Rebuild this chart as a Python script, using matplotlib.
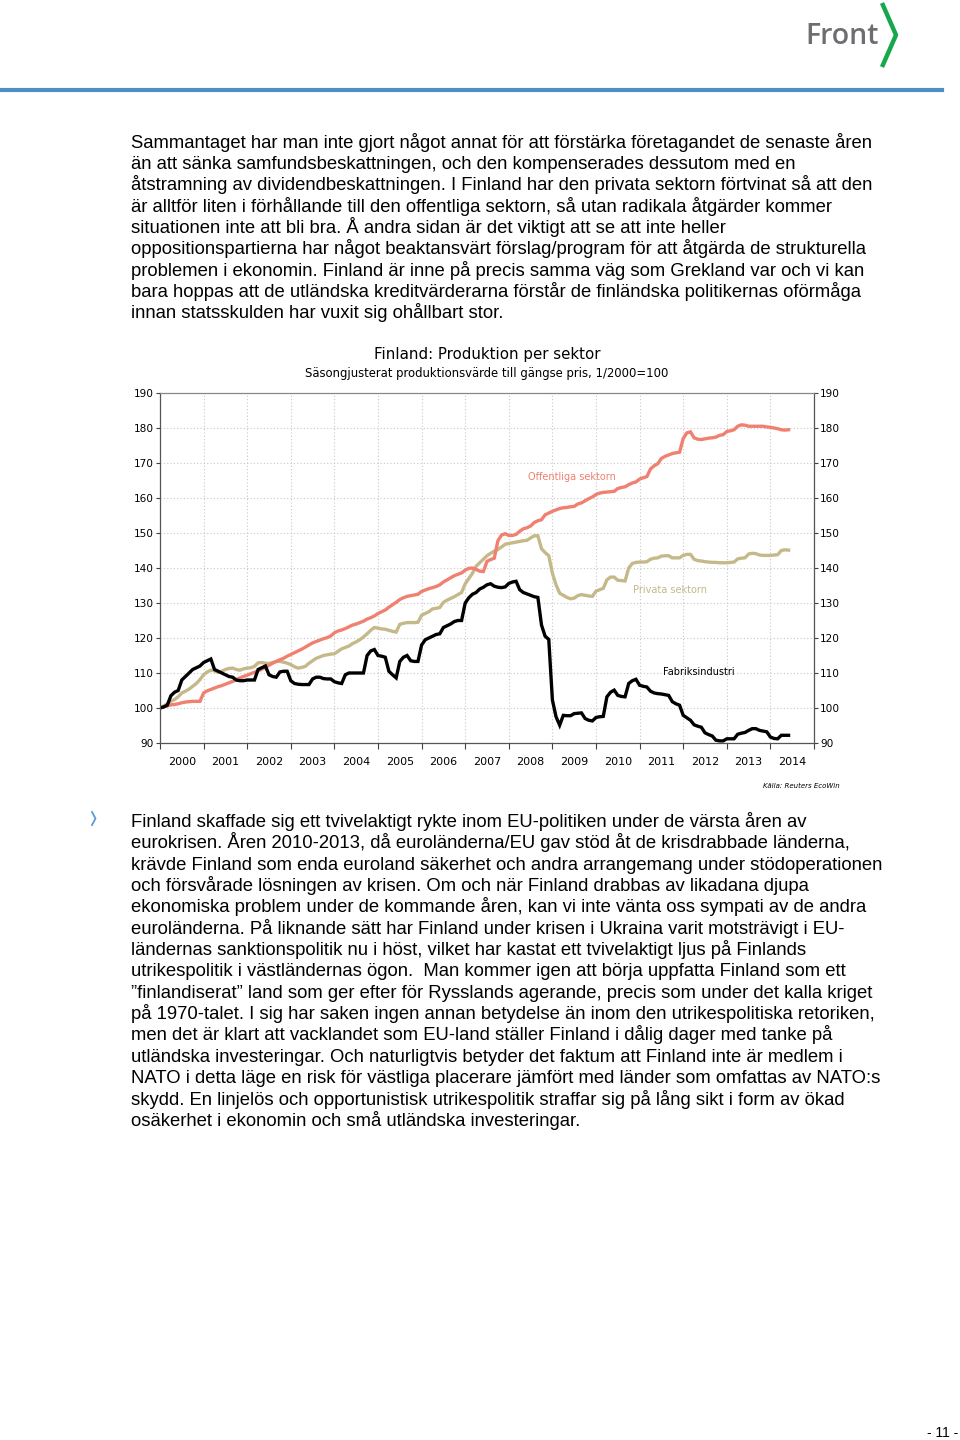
import numpy as np
import matplotlib
matplotlib.use("Agg")
import matplotlib.pyplot as plt
from matplotlib.lines import Line2D

# Monthly series, Jan 2000 .. Jun 2014 (1/2000 = 100)
start_year = 2000
offentliga = [
    100, 100.3, 100.6, 100.9, 101, 101.2, 101.5, 101.7, 101.8, 101.9, 101.9, 101.9,
    104.3, 104.9, 105.3, 105.7, 106.1, 106.4, 106.8, 107.2, 107.6, 108.1, 108.6, 109,
    109.4, 109.8, 110.2, 110.6, 111.1, 111.6, 112.2, 112.8, 113.3, 113.8, 114.2, 114.8,
    115.3, 115.8, 116.3, 116.8, 117.4, 118, 118.6, 119, 119.4, 119.8, 120.1, 120.6,
    121.5, 122, 122.3, 122.7, 123.2, 123.7, 124, 124.4, 124.8, 125.4, 125.8, 126.3,
    127, 127.5, 128, 128.8, 129.5, 130.2, 131, 131.5, 131.9, 132.1, 132.3, 132.5,
    133.3, 133.7, 134.1, 134.4, 134.7, 135.2, 136, 136.6, 137.2, 137.8, 138.2, 138.6,
    139.4, 139.9, 140, 139.6, 139.1, 139, 141.9, 142.4, 142.8, 147.8, 149.4, 149.8,
    149.3, 149.3, 149.6, 150.5, 151.2, 151.5, 152, 153, 153.5, 153.8, 155.2, 155.7,
    156.2, 156.6, 157, 157.2, 157.3, 157.5, 157.6, 158.3, 158.6, 159.2, 159.8, 160.3,
    161, 161.4, 161.6, 161.7, 161.8, 161.9, 162.7, 163, 163.2, 163.8, 164.3, 164.6,
    165.4, 165.8, 166.1, 168.3, 169.2, 169.8, 171.3, 171.9, 172.3, 172.7, 172.9, 173.1,
    177, 178.6, 178.9, 177.2, 176.8, 176.7, 176.9, 177.1, 177.2, 177.4, 177.9, 178.1,
    179, 179.2, 179.5, 180.5, 180.9, 180.8, 180.5, 180.5, 180.5, 180.5, 180.5, 180.3,
    180.2, 180, 179.8, 179.5, 179.4, 179.5,
]
privata = [
    100, 100.6, 101.2, 101.9, 102.4, 103.2, 104.3, 104.8, 105.4, 106.2, 107, 108.1,
    109.5, 110.3, 110.8, 110.6, 110.2, 110.5, 111, 111.3, 111.4, 111, 110.8, 111.2,
    111.4, 111.5, 111.9, 112.9, 113, 112.8, 112.7, 113, 113.3, 113.3, 113.1, 112.8,
    112.4, 111.8, 111.4, 111.6, 111.9, 112.8, 113.5, 114.2, 114.6, 115, 115.2, 115.4,
    115.5, 116.2, 116.9, 117.3, 117.7, 118.4, 118.9, 119.5, 120.3, 121.2, 122.2, 123,
    122.8, 122.6, 122.5, 122.2, 121.9, 121.7, 123.9, 124.2, 124.4, 124.4, 124.4, 124.5,
    126.5, 127, 127.5, 128.3, 128.5, 128.7, 130.2, 130.8, 131.3, 131.8, 132.4, 133,
    135.5, 137, 138.5, 140.5, 141.5, 142.5, 143.5, 144.2, 144.8, 145.3, 146, 146.8,
    147, 147.2, 147.4, 147.6, 147.8, 147.9, 148.6, 149.2, 149.2, 145.5, 144.4, 143.5,
    138.5, 135.2, 132.8, 132.2, 131.6, 131.2, 131.4, 132.1, 132.4, 132.2, 132, 131.9,
    133.4, 133.8, 134.2, 136.6, 137.4, 137.4, 136.5, 136.4, 136.3, 140, 141.3, 141.6,
    141.7, 141.7, 141.8, 142.5, 142.8, 142.9, 143.4, 143.5, 143.5, 142.9, 142.9, 142.9,
    143.6, 143.9, 143.9, 142.5, 142.1, 142, 141.8, 141.7, 141.6, 141.6, 141.5, 141.5,
    141.5, 141.6, 141.7, 142.6, 142.8, 142.9, 144, 144.2, 144.1, 143.7, 143.6, 143.6,
    143.6, 143.7, 143.8, 145, 145.2, 145.1,
]
fabriks = [
    100, 100.3, 100.8, 103.5, 104.5, 105, 108, 109, 110, 111, 111.5, 112,
    113, 113.5, 114, 111, 110.5, 110, 109.5, 109, 108.8, 108, 107.8, 107.8,
    108, 108, 108, 111, 111.5, 112, 109.5, 109, 108.8, 110.3, 110.5, 110.5,
    107.8, 107, 106.8, 106.7, 106.7, 106.7, 108.3, 108.8, 108.8, 108.4, 108.3, 108.3,
    107.5, 107.2, 107, 109.5, 110, 110, 110, 110, 110, 115, 116.3, 116.7,
    115, 114.8, 114.5, 110.5, 109.5, 108.6, 113.3, 114.5, 115, 113.5, 113.3, 113.3,
    118, 119.5, 120, 120.5, 121, 121.2, 123, 123.5, 124, 124.7, 125, 125,
    130, 131.5, 132.5, 133, 134, 134.5, 135.2, 135.5, 134.8, 134.5, 134.4, 134.6,
    135.6, 136, 136.2, 133.8, 133, 132.6, 132.2, 131.8, 131.6, 123.7, 120.5, 119.6,
    102.3, 97.5, 95.1, 97.9, 97.8, 97.8, 98.4, 98.5, 98.6, 97, 96.5, 96.3,
    97.3, 97.5, 97.6, 103.2, 104.5, 105.1, 103.6, 103.3, 103.2, 107, 107.8, 108.2,
    106.5, 106.2, 106, 104.8, 104.3, 104.1, 104, 103.8, 103.6, 101.8, 101.2, 100.8,
    97.9, 97.2, 96.5, 95.2, 94.8, 94.5, 92.9, 92.4, 92, 90.8, 90.6, 90.6,
    91.2, 91.2, 91.2, 92.5, 92.8, 93, 93.6, 94.1, 94.1, 93.6, 93.4, 93.2,
    91.7, 91.3, 91.2, 92.2, 92.2, 92.2,
]
years = list(range(2000, 2015))

para1 = [
    "Sammantaget har man inte gjort något annat för att förstärka företagandet de senaste åren",
    "än att sänka samfundsbeskattningen, och den kompenserades dessutom med en",
    "åtstramning av dividendbeskattningen. I Finland har den privata sektorn förtvinat så att den",
    "är alltför liten i förhållande till den offentliga sektorn, så utan radikala åtgärder kommer",
    "situationen inte att bli bra. Å andra sidan är det viktigt att se att inte heller",
    "oppositionspartierna har något beaktansvärt förslag/program för att åtgärda de strukturella",
    "problemen i ekonomin. Finland är inne på precis samma väg som Grekland var och vi kan",
    "bara hoppas att de utländska kreditvärderarna förstår de finländska politikernas oförmåga",
    "innan statsskulden har vuxit sig ohållbart stor.",
]
para2 = [
    "Finland skaffade sig ett tvivelaktigt rykte inom EU-politiken under de värsta åren av",
    "eurokrisen. Åren 2010-2013, då euroländerna/EU gav stöd åt de krisdrabbade länderna,",
    "krävde Finland som enda euroland säkerhet och andra arrangemang under stödoperationen",
    "och försvårade lösningen av krisen. Om och när Finland drabbas av likadana djupa",
    "ekonomiska problem under de kommande åren, kan vi inte vänta oss sympati av de andra",
    "euroländerna. På liknande sätt har Finland under krisen i Ukraina varit motsträvigt i EU-",
    "ländernas sanktionspolitik nu i höst, vilket har kastat ett tvivelaktigt ljus på Finlands",
    "utrikespolitik i västländernas ögon.  Man kommer igen att börja uppfatta Finland som ett",
    "\u201dfinlandiserat\u201d land som ger efter för Rysslands agerande, precis som under det kalla kriget",
    "på 1970-talet. I sig har saken ingen annan betydelse än inom den utrikespolitiska retoriken,",
    "men det är klart att vacklandet som EU-land ställer Finland i dålig dager med tanke på",
    "utländska investeringar. Och naturligtvis betyder det faktum att Finland inte är medlem i",
    "NATO i detta läge en risk för västliga placerare jämfört med länder som omfattas av NATO:s",
    "skydd. En linjelös och opportunistisk utrikespolitik straffar sig på lång sikt i form av ökad",
    "osäkerhet i ekonomin och små utländska investeringar.",
]

W, H = 960, 1440


def fx(x):
    return x / W


def fy(y):
    return 1 - y / H


fig = plt.figure(figsize=(9.6, 14.4), dpi=100)
fig.patch.set_facecolor("white")

# header
fig.text(fx(842), fy(37), "Front", fontsize=20.5, color="#6d6e71",
         family="Open Sans", weight="semibold", ha="center", va="center")
fig.add_artist(Line2D([fx(882), fx(896), fx(882)], [fy(3), fy(35), fy(67)],
                      color="#17a84b", lw=3.2, solid_capstyle="butt"))
fig.add_artist(Line2D([fx(0), fx(942)], [fy(90), fy(90)], color="#4b8fc3", lw=3))

# body text
body = dict(fontsize=13.3, family="Liberation Sans", color="black", va="baseline")
for i, line in enumerate(para1):
    fig.text(fx(131), fy(148 + i * 21.25), line, **body)
for i, line in enumerate(para2):
    fig.text(fx(131), fy(827 + i * 21.35), line, **body)
fig.add_artist(Line2D([fx(92), fx(95.5), fx(92)], [fy(812), fy(818.5), fy(825)],
                      color="#5b9bd0", lw=1.3))
fig.text(fx(958), fy(1437), "- 11 -", fontsize=10, family="Liberation Sans",
         ha="right", va="baseline")

# chart titles
fig.text(fx(487), fy(354), "Finland: Produktion per sektor", fontsize=10.8,
         ha="center", va="center", family="DejaVu Sans")
fig.text(fx(487), fy(374), "Säsongjusterat produktionsvärde till gängse pris, 1/2000=100",
         fontsize=8.4, ha="center", va="center", family="DejaVu Sans")

ax = fig.add_axes([fx(160), fy(743), 654 / W, 350 / H])
t = start_year + np.arange(len(fabriks)) / 12
ax.plot(t, privata, color="#c5b98a", lw=2.4, solid_joinstyle="miter")
ax.plot(t, offentliga, color="#f0806f", lw=2.4, solid_joinstyle="miter")
ax.plot(t, fabriks, color="black", lw=2.4, solid_joinstyle="miter")

ax.set_xlim(2000, 2015)
ax.set_ylim(90, 190)
ax.set_yticks(range(90, 191, 10))
ax.set_xticks(range(2000, 2016))
ax.set_xticklabels([])
ax.set_xticks([y + 0.5 for y in years], minor=True)
ax.set_xticklabels([str(y) for y in years], minor=True)
ax.tick_params(axis="x", which="major", length=4, width=0.8, color="#404040")
ax.tick_params(axis="x", which="minor", length=0, pad=10, labelsize=8)
ax.tick_params(axis="y", length=3, width=0.8, color="#404040", labelsize=7.6,
               left=True, right=True, labelleft=True, labelright=True, pad=1.5)
ax.grid(True, which="major", linestyle=(0, (1, 2)), color="#c8c8c8", lw=0.8)
for s in ax.spines.values():
    s.set_color("#555555")
    s.set_linewidth(0.9)
ax.spines["top"].set_color("#888888")

ax.text(2009.45, 166, "Offentliga sektorn", color="#f0806f", fontsize=7,
        ha="center", va="center")
ax.text(2011.7, 133.7, "Privata sektorn", color="#c5b98a", fontsize=7,
        ha="center", va="center")
ax.text(2012.35, 110.3, "Fabriksindustri", color="black", fontsize=7,
        ha="center", va="center")

fig.text(fx(840), fy(786), "Källa: Reuters EcoWin", fontsize=5, style="italic",
         ha="right", va="center")

fig.savefig("out.png", dpi=100, facecolor="white")
